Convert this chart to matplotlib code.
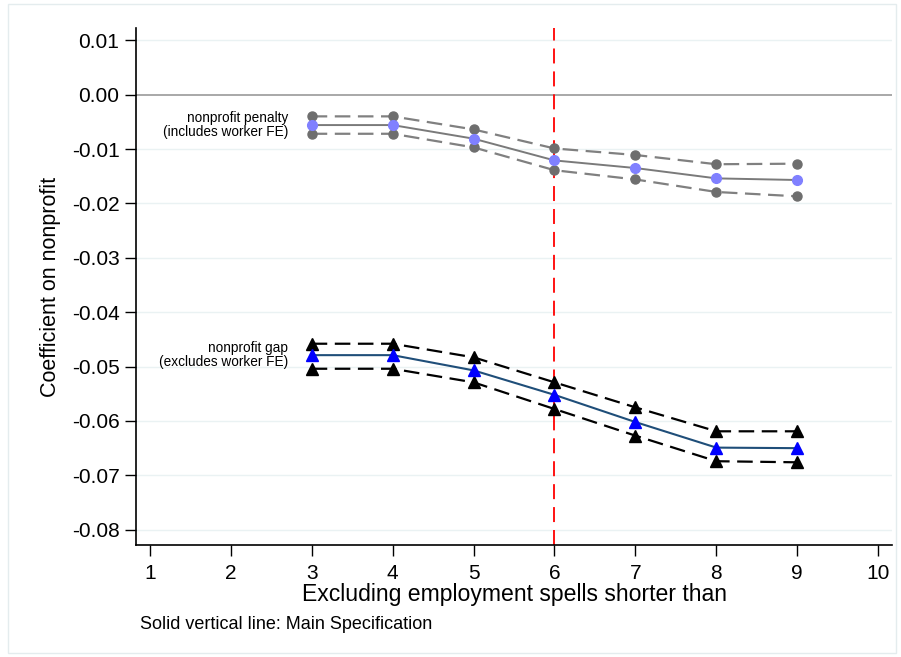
import matplotlib
matplotlib.use("Agg")
import matplotlib.pyplot as plt
from matplotlib.patches import Rectangle

x = [3, 4, 5, 6, 7, 8, 9]
penalty = [-0.0056, -0.0056, -0.0081, -0.0121, -0.0135, -0.0154, -0.0157]
penalty_hi = [-0.0040, -0.0040, -0.0064, -0.0099, -0.0111, -0.0128, -0.0127]
penalty_lo = [-0.0072, -0.0072, -0.0097, -0.0139, -0.0156, -0.0179, -0.0187]
gap = [-0.0479, -0.0479, -0.0507, -0.0552, -0.0602, -0.0649, -0.0650]
gap_hi = [-0.0458, -0.0458, -0.0483, -0.0529, -0.0575, -0.0619, -0.0619]
gap_lo = [-0.0504, -0.0504, -0.0529, -0.0578, -0.0627, -0.0674, -0.0676]
main_spec = 6
xticks = [1, 2, 3, 4, 5, 6, 7, 8, 9, 10]
yticks = [0.01, 0.0, -0.01, -0.02, -0.03, -0.04, -0.05, -0.06, -0.07, -0.08]

plt.rcParams['font.family'] = ['Liberation Sans', 'DejaVu Sans']

fig = plt.figure(figsize=(9.01, 6.57), dpi=100)
fig.patches.append(Rectangle((0.009, 0.006), 0.985, 0.988, transform=fig.transFigure,
                             fill=False, edgecolor='#e4ecee', linewidth=1.0))
ax = fig.add_axes([0.151, 0.1705, 0.839, 0.7865])

for yt in yticks:
    if yt != 0.0:
        ax.axhline(yt, color='#eaf2f3', linewidth=1.0, zorder=0)
ax.axhline(0.0, color='#9a9a9a', linewidth=1.2, zorder=1)
ax.axvline(main_spec, color='red', linewidth=1.3, linestyle=(0, (8.3, 4.4)), zorder=2)

dash = (0, (7.0, 3.4))
# penalty
for band in (penalty_hi, penalty_lo):
    ax.plot(x, band, color='#808080', linestyle=dash, linewidth=1.6,
            marker='o', markersize=6.5, markerfacecolor='#6e6e6e', markeredgecolor='#6e6e6e', zorder=3)
ax.plot(x, penalty, color='#7a7a7a', linewidth=1.4,
        marker='o', markersize=7, markerfacecolor='#8080ff', markeredgecolor='#8080ff', zorder=4)

# gap
for band in (gap_hi, gap_lo):
    ax.plot(x, band, color='black', linestyle=dash, linewidth=1.6,
            marker='^', markersize=8, markerfacecolor='black', markeredgecolor='black', zorder=3)
ax.plot(x, gap, color='#1f4e79', linewidth=1.5,
        marker='^', markersize=8.5, markerfacecolor='#0000ff', markeredgecolor='#0000ff', zorder=4)

ax.text(2.71, penalty[0], 'nonprofit penalty\n(includes worker FE)', ha='right', va='center',
        fontsize=9.8, linespacing=1.0)
ax.text(2.71, gap[0], 'nonprofit gap\n(excludes worker FE)', ha='right', va='center',
        fontsize=9.8, linespacing=1.0)

ax.set_xlim(0.83, 10.17)
ax.set_ylim(-0.0828, 0.0122)
ax.set_xticks(xticks)
ax.set_xticklabels([str(t) for t in xticks], fontsize=15)
ax.set_yticks(yticks)
ax.set_yticklabels(['%.2f' % t for t in yticks], fontsize=15)
ax.tick_params(axis='both', direction='out', length=8, width=1.0, color='black')
ax.tick_params(axis='x', pad=6)
ax.tick_params(axis='y', pad=4)

for s in ['top', 'right']:
    ax.spines[s].set_visible(False)
for s in ['left', 'bottom']:
    ax.spines[s].set_linewidth(1.2)

ax.set_xlabel('Excluding employment spells shorter than', fontsize=16.6, labelpad=0)
ax.set_ylabel('Coefficient on nonprofit', fontsize=15.5, labelpad=8)

fig.text(0.155, 0.050, 'Solid vertical line: Main Specification', fontsize=13,
         ha='left', va='center')

fig.savefig('out.png', dpi=100)
